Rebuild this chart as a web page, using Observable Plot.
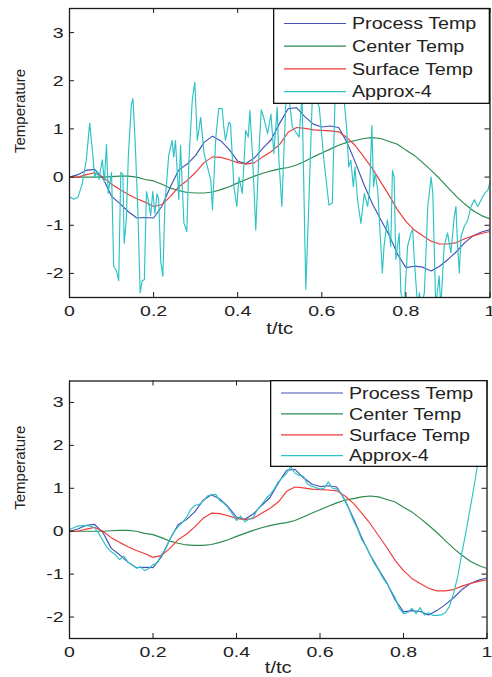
<!DOCTYPE html>
<html><head><meta charset="utf-8">
<script src="https://cdn.jsdelivr.net/npm/d3@7"></script>
<script src="https://cdn.jsdelivr.net/npm/@observablehq/plot@0.6"></script>
<style>
body{margin:0;background:#fff;}
#wrap{position:relative;width:492px;height:677px;overflow:hidden;font-family:"Liberation Sans",Arial,sans-serif;}
.panel{position:absolute;left:0;}
.legend{position:absolute;}
</style></head><body><div id="wrap"></div>
<script>
const seriesNames = ["Process Temp", "Center Temp", "Surface Temp", "Approx-4"];
const seriesColors = ["#4252b6", "#2b8a4c", "#f03a3a", "#2cc2c6"];
const xTicks = [0, 0.2, 0.4, 0.6, 0.8, 1];
const yTicks = [-2, -1, 0, 1, 2, 3];

const tGrid = [0,0.02,0.04,0.06,0.08,0.1,0.12,0.14,0.16,0.18,0.2,0.22,0.24,0.26,0.28,0.3,0.32,0.34,0.36,0.38,0.4,0.42,0.44,0.46,0.48,0.5,0.52,0.54,0.56,0.58,0.6,0.62,0.64,0.66,0.68,0.7,0.72,0.74,0.76,0.78,0.8,0.82,0.84,0.86,0.88,0.9,0.92,0.94,0.96,0.98,1];
const processTemp = [0.0,0.05,0.14,0.16,-0.03,-0.4,-0.55,-0.72,-0.85,-0.84,-0.85,-0.6,-0.2,0.15,0.27,0.45,0.72,0.85,0.75,0.57,0.33,0.28,0.4,0.6,0.78,1.12,1.42,1.44,1.25,1.1,1.04,1.06,1.03,0.72,0.3,-0.15,-0.55,-0.88,-1.2,-1.6,-1.88,-1.85,-1.87,-1.95,-1.85,-1.71,-1.55,-1.36,-1.22,-1.14,-1.09];
const centerTemp = [0,0,0,0,0,0.01,0.02,0.02,0,-0.05,-0.08,-0.15,-0.23,-0.28,-0.32,-0.33,-0.33,-0.31,-0.26,-0.2,-0.12,-0.05,0.02,0.08,0.13,0.17,0.2,0.25,0.33,0.42,0.5,0.58,0.66,0.72,0.76,0.8,0.82,0.8,0.74,0.68,0.56,0.45,0.3,0.14,-0.03,-0.22,-0.4,-0.56,-0.7,-0.8,-0.87];
const surfaceTemp = [0.0,0.0,0.05,0.09,0.0,-0.15,-0.26,-0.36,-0.45,-0.52,-0.61,-0.57,-0.4,-0.2,-0.07,0.1,0.3,0.42,0.41,0.36,0.3,0.27,0.3,0.42,0.53,0.68,0.93,1.03,1.01,0.98,0.97,0.96,0.94,0.82,0.65,0.42,0.18,-0.1,-0.38,-0.68,-0.92,-1.1,-1.22,-1.33,-1.39,-1.39,-1.36,-1.28,-1.22,-1.17,-1.13];

// Approx-4, top panel: [t/tc, value]
const approxNoisy = [[0,-0.41],[0.01,-0.46],[0.02,-0.42],[0.03,-0.15],[0.04,0.35],[0.048,1.12],[0.055,0.5],[0.06,0.0],[0.066,0.12],[0.07,-0.05],[0.078,0.36],[0.083,-0.1],[0.088,0.68],[0.092,-0.34],[0.1,0.1],[0.105,-1.85],[0.112,-1.95],[0.117,-2.15],[0.122,0.1],[0.127,0.05],[0.13,-1.37],[0.135,-0.9],[0.14,0.45],[0.147,1.5],[0.151,1.63],[0.157,0.55],[0.163,-0.8],[0.168,-2.4],[0.173,-2.15],[0.178,-2.13],[0.183,-0.3],[0.188,-0.5],[0.193,-0.8],[0.198,-0.3],[0.203,-0.75],[0.208,-0.35],[0.212,-0.45],[0.217,-1.75],[0.222,-2.06],[0.227,-0.55],[0.236,0.45],[0.244,0.76],[0.248,0.42],[0.252,0.76],[0.26,-0.47],[0.264,0.66],[0.272,-0.95],[0.279,-1.13],[0.284,0.35],[0.292,1.6],[0.298,1.97],[0.304,0.76],[0.312,1.24],[0.32,0.49],[0.328,0.21],[0.336,-0.06],[0.34,-0.68],[0.348,0.83],[0.355,1.42],[0.363,1.42],[0.367,1.04],[0.371,0.76],[0.379,1.14],[0.383,1.1],[0.391,-0.2],[0.398,-0.61],[0.403,0.0],[0.411,-0.34],[0.419,0.97],[0.425,0.83],[0.429,1.38],[0.435,0.49],[0.443,-1.1],[0.451,0.6],[0.456,1.4],[0.463,1.2],[0.471,0.9],[0.479,1.31],[0.486,0.49],[0.494,1.45],[0.498,0.35],[0.505,-0.61],[0.514,1.45],[0.52,1.8],[0.53,1.04],[0.546,0.83],[0.553,1.7],[0.562,-2.33],[0.57,-0.34],[0.578,1.8],[0.594,1.45],[0.605,0.35],[0.617,-0.58],[0.625,-0.54],[0.632,1.8],[0.641,1.59],[0.653,1.6],[0.659,1.04],[0.664,0.21],[0.669,0.35],[0.675,-0.2],[0.679,0.21],[0.685,-0.47],[0.693,-0.96],[0.701,-0.34],[0.709,-0.61],[0.714,-0.2],[0.719,1.07],[0.723,-0.2],[0.727,0.08],[0.733,-0.27],[0.74,-1.37],[0.744,-1.99],[0.748,-1.44],[0.756,-0.89],[0.764,-1.44],[0.768,0.14],[0.772,0.0],[0.776,-1.71],[0.784,-1.16],[0.788,-2.4],[0.796,-2.7],[0.804,-1.44],[0.812,-1.16],[0.816,-1.09],[0.82,-1.71],[0.828,-2.7],[0.832,-2.4],[0.836,-2.7],[0.844,-2.4],[0.852,-0.61],[0.86,0.0],[0.864,-0.34],[0.871,-2.7],[0.879,-2.05],[0.883,-2.7],[0.891,-1.44],[0.899,-1.16],[0.907,-1.57],[0.915,-0.82],[0.919,-0.61],[0.923,-1.44],[0.927,-1.99],[0.931,-1.23],[0.939,-1.02],[0.947,-0.89],[0.955,-0.61],[0.963,-0.47],[0.971,-0.61],[0.979,-0.47],[0.987,-0.34],[0.995,-0.27],[1,-0.1]];

// Approx-4, bottom panel: [t/tc, value]
const approxFit = [[0,0.04],[0.01,0.08],[0.02,0.12],[0.03,0.13],[0.04,0.13],[0.05,0.12],[0.06,0.08],[0.07,-0.05],[0.08,-0.22],[0.09,-0.38],[0.1,-0.48],[0.11,-0.55],[0.12,-0.66],[0.13,-0.58],[0.14,-0.72],[0.15,-0.78],[0.16,-0.86],[0.17,-0.83],[0.18,-0.92],[0.19,-0.87],[0.2,-0.78],[0.21,-0.74],[0.22,-0.55],[0.23,-0.42],[0.24,-0.2],[0.25,-0.02],[0.26,0.1],[0.27,0.2],[0.28,0.32],[0.29,0.5],[0.3,0.6],[0.31,0.62],[0.32,0.7],[0.33,0.82],[0.34,0.85],[0.35,0.86],[0.36,0.72],[0.37,0.65],[0.38,0.55],[0.39,0.4],[0.4,0.25],[0.41,0.35],[0.42,0.22],[0.43,0.28],[0.44,0.32],[0.45,0.5],[0.46,0.62],[0.47,0.75],[0.48,0.85],[0.49,0.98],[0.5,1.15],[0.51,1.25],[0.52,1.35],[0.53,1.5],[0.54,1.35],[0.55,1.3],[0.56,1.28],[0.57,1.1],[0.58,1.05],[0.59,1.02],[0.6,0.98],[0.61,1.0],[0.62,1.15],[0.63,1.0],[0.64,0.98],[0.65,0.9],[0.66,0.7],[0.67,0.5],[0.68,0.25],[0.69,0.05],[0.7,-0.2],[0.71,-0.35],[0.72,-0.55],[0.73,-0.75],[0.74,-0.9],[0.75,-1.08],[0.76,-1.22],[0.77,-1.38],[0.78,-1.55],[0.79,-1.8],[0.8,-1.92],[0.81,-1.9],[0.82,-1.8],[0.83,-1.92],[0.84,-1.78],[0.85,-1.95],[0.86,-1.9],[0.87,-1.96],[0.88,-1.96],[0.89,-1.95],[0.9,-1.9],[0.91,-1.75],[0.92,-1.45],[0.93,-1.05],[0.94,-0.5],[0.95,0.0],[0.96,0.55],[0.97,1.1],[0.98,1.7],[0.99,2.3],[1,2.9]];

function smoothRows() {
  const rows = [];
  const vals = [processTemp, centerTemp, surfaceTemp];
  vals.forEach((arr, k) => arr.forEach((v, i) => rows.push({t: tGrid[i], v, name: seriesNames[k]})));
  return rows;
}

// widen glyphs horizontally around each text's anchor point (the reference's text is stretched)
function stretchTexts(svg, s) {
  svg.querySelectorAll("text").forEach(el => {
    if (el.closest("[data-nostretch]")) return;
    const tr = el.getAttribute("transform") || "";
    el.setAttribute("transform", `${tr} scale(${s},1)`);
  });
}

function panel(approx, cfg) {
  const W = 492;
  const innerH = cfg.height - cfg.marginTop - cfg.marginBottom;
  const innerW = W - 69 - cfg.marginRight;
  const rows = smoothRows().concat(approx.map(([t, v]) => ({t, v, name: seriesNames[3]})));
  const svg = Plot.plot({
    width: W, height: cfg.height,
    marginLeft: 69, marginRight: cfg.marginRight, marginTop: cfg.marginTop, marginBottom: cfg.marginBottom,
    style: {fontFamily: "'Liberation Sans', Arial, sans-serif", fontSize: "15.5px", color: "#222", background: "transparent", overflow: "visible"},
    x: {domain: [0, 1]},
    y: {domain: [-2.5, 3.5]},
    color: {domain: seriesNames, range: seriesColors},
    marks: [
      Plot.line(rows, {x: "t", y: "v", z: "name", stroke: "name", strokeWidth: 1.15, clip: true}),
      Plot.frame({stroke: "#1a1a1a", strokeWidth: 1.3}),
      Plot.ruleX(xTicks, {x: d => d, insetTop: innerH - 5, stroke: "#1a1a1a"}),
      Plot.ruleX(xTicks, {x: d => d, insetBottom: innerH - 5, stroke: "#1a1a1a"}),
      Plot.ruleY(yTicks, {y: d => d, insetRight: innerW - 5, stroke: "#1a1a1a"}),
      Plot.ruleY(yTicks, {y: d => d, insetLeft: innerW - 5, stroke: "#1a1a1a"}),
      Plot.axisX({ticks: xTicks, tickSize: 0, tickPadding: 7, tickFormat: d => String(d), label: null}),
      Plot.axisY({ticks: yTicks, tickSize: 0, tickPadding: 6, tickFormat: d => String(d), label: null}),
      Plot.text(["t/tc"], {frameAnchor: "bottom", dy: cfg.xLabelDy, text: d => d, fontSize: 16}),
      Plot.text(["Temperature"], {frameAnchor: "left", dx: -49, rotate: -90, text: d => d, fontSize: 15, className: "ylab"})
    ]
  });
  svg.querySelectorAll(".ylab").forEach(g => g.setAttribute("data-nostretch", ""));
  stretchTexts(svg, 1.26);
  return svg;
}

function legend(box) {
  const svg = d3.create("svg")
    .attr("class", "legend")
    .attr("width", box.width).attr("height", box.height)
    .style("left", box.left + "px").style("top", box.top + "px");
  svg.append("rect")
    .attr("x", 0.65).attr("y", 0.65)
    .attr("width", box.width - 1.3).attr("height", box.height - 1.3)
    .attr("fill", "#fff").attr("stroke", "#111").attr("stroke-width", 1.3);
  seriesNames.forEach((name, i) => {
    const y = box.row0 + i * box.rowStep;
    svg.append("line")
      .attr("x1", box.lineX0).attr("x2", box.lineX1).attr("y1", y).attr("y2", y)
      .attr("stroke", seriesColors[i]).attr("stroke-width", 1.2);
    svg.append("text")
      .attr("transform", `translate(${box.textX},${y}) scale(1.23,1)`)
      .attr("dy", "0.36em")
      .attr("font-family", "'Liberation Sans', Arial, sans-serif")
      .attr("font-size", box.fontSize).attr("fill", "#222")
      .text(name);
  });
  return svg.node();
}

const wrap = document.getElementById("wrap");
const top1 = panel(approxNoisy, {height: 340, marginTop: 8, marginBottom: 43, marginRight: 2.5, xLabelDy: 36});
top1.classList.add("panel"); top1.style.top = "0px";
const top2 = panel(approxFit, {height: 337, marginTop: 40.5, marginBottom: 39, marginRight: 5.5, xLabelDy: 34});
top2.classList.add("panel"); top2.style.top = "340px";
wrap.append(top1, top2);
wrap.append(legend({left: 273, top: 7.5, width: 217, height: 96, row0: 15.5, rowStep: 22.7, lineX0: 11, lineX1: 73, textX: 79, fontSize: 16}));
wrap.append(legend({left: 270, top: 380, width: 217.5, height: 87, row0: 13, rowStep: 20.9, lineX0: 11, lineX1: 73, textX: 79, fontSize: 16}));
</script>
</body></html>
